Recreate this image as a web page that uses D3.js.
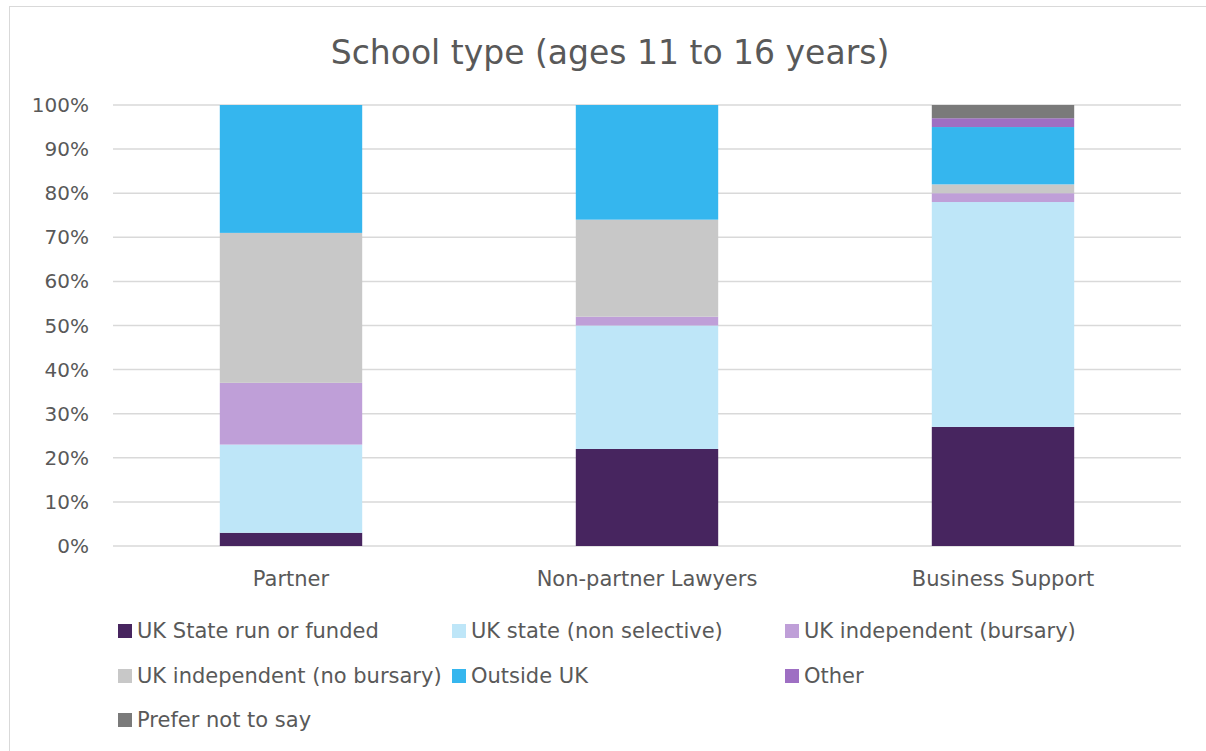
<!DOCTYPE html>
<html>
<head>
<meta charset="utf-8">
<script src="https://cdn.jsdelivr.net/npm/d3@7"></script>
<style>
  body { margin: 0; background: #fff; }
  text { font-family: "DejaVu Sans", sans-serif; fill: #595959; }
</style>
</head>
<body>
<svg width="1206" height="751"></svg>
<script>
var categories = ["Partner", "Non-partner Lawyers", "Business Support"];
var seriesNames = ["UK State run or funded", "UK state (non selective)", "UK independent (bursary)",
  "UK independent (no bursary)", "Outside UK", "Other", "Prefer not to say"];
var seriesColors = ["#47255F", "#BEE6F8", "#BF9FD8", "#C8C8C8", "#35B6EE", "#9E6FC3", "#7A7A7A"];

// percentages per category, one array per series
var stateRun      = [3, 22, 27];
var stateNonSel   = [20, 28, 51];
var indepBursary  = [14, 2, 2];
var indepNoBurs   = [34, 22, 2];
var outsideUK     = [29, 26, 13];
var other         = [0, 0, 2];
var preferNot     = [0, 0, 3];

var yTicks = [0, 10, 20, 30, 40, 50, 60, 70, 80, 90, 100];

var values = [stateRun, stateNonSel, indepBursary, indepNoBurs, outsideUK, other, preferNot];
var rows = categories.map(function(c, i) {
  var r = { cat: c };
  seriesNames.forEach(function(s, j) { r[s] = values[j][i]; });
  return r;
});

var svg = d3.select("svg");

// chart frame
svg.append("rect")
  .attr("x", 9.5).attr("y", 6.5)
  .attr("width", 1206).attr("height", 760)
  .attr("fill", "none").attr("stroke", "#d9d9d9");

var plotLeft = 113, plotRight = 1181, plotTop = 105, plotBottom = 546;

var x = d3.scaleBand().domain(categories).range([plotLeft, plotRight]).paddingInner(0.6).paddingOuter(0.3);
var y = d3.scaleLinear().domain([0, 100]).range([plotBottom, plotTop]);

svg.append("text")
  .attr("x", 610).attr("y", 64)
  .attr("text-anchor", "middle")
  .style("font-size", "33px")
  .text("School type (ages 11 to 16 years)");

// gridlines
svg.append("g").selectAll("line")
  .data(yTicks)
  .enter().append("line")
  .attr("x1", plotLeft).attr("x2", plotRight)
  .attr("y1", function(d) { return y(d); })
  .attr("y2", function(d) { return y(d); })
  .attr("stroke", "#d9d9d9").attr("stroke-width", 1.5);

// y labels
svg.append("g").selectAll("text")
  .data(yTicks)
  .enter().append("text")
  .attr("x", 89).attr("y", function(d) { return y(d); })
  .attr("dy", "0.35em")
  .attr("text-anchor", "end")
  .style("font-size", "20px")
  .text(function(d) { return d + "%"; });

var stack = d3.stack().keys(seriesNames)(rows);

svg.append("g").selectAll("g")
  .data(stack)
  .enter().append("g")
  .attr("fill", function(d, i) { return seriesColors[i]; })
  .selectAll("rect")
  .data(function(d) { return d; })
  .enter().append("rect")
  .attr("x", function(d) { return x(d.data.cat); })
  .attr("width", x.bandwidth())
  .attr("y", function(d) { return y(d[1]); })
  .attr("height", function(d) { return y(d[0]) - y(d[1]); });

// category labels
svg.append("g").selectAll("text")
  .data(categories)
  .enter().append("text")
  .attr("x", function(d) { return x(d) + x.bandwidth() / 2; })
  .attr("y", 586)
  .attr("text-anchor", "middle")
  .style("font-size", "21px")
  .text(function(d) { return d; });

// legend
var legendPos = [[118, 631], [452, 631], [785, 631], [118, 676], [452, 676], [785, 676], [118, 720]];
var legend = svg.append("g").selectAll("g")
  .data(seriesNames)
  .enter().append("g")
  .attr("transform", function(d, i) { return "translate(" + legendPos[i][0] + "," + legendPos[i][1] + ")"; });

legend.append("rect")
  .attr("x", 0).attr("y", -7)
  .attr("width", 14).attr("height", 14)
  .attr("fill", function(d, i) { return seriesColors[i]; });

legend.append("text")
  .attr("x", 19).attr("dy", "0.35em")
  .style("font-size", "21px")
  .text(function(d) { return d; });
</script>
</body>
</html>
